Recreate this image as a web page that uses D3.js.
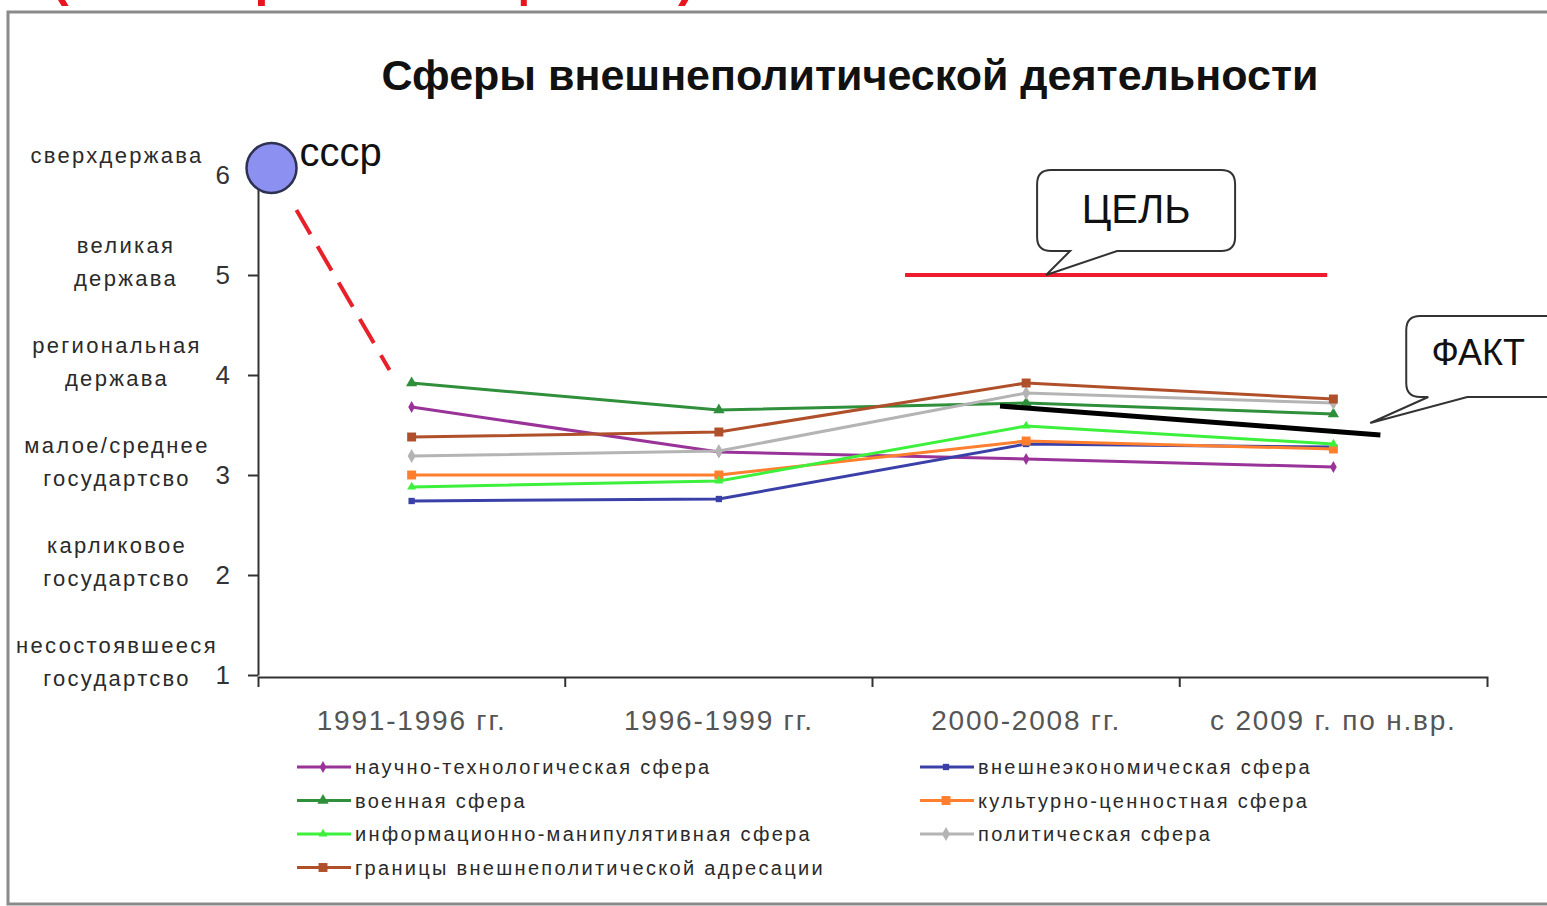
<!DOCTYPE html>
<meta charset="utf-8">
<script src="https://d3js.org/d3.v7.min.js"></script>
<style>
  body { margin: 0; background: #fff; }
  text { font-family: "Liberation Sans", Arial, sans-serif; }
</style>
<div id="vis"></div>
<script type="text/javascript">

// periods on the x axis
var categories = ["1991-1996 гг.", "1996-1999 гг.", "2000-2008 гг.", "с 2009 г. по н.вр."];

// spheres (legend order)
var seriesNames = [
  "научно-технологическая сфера",
  "внешнеэкономическая сфера",
  "военная сфера",
  "культурно-ценностная сфера",
  "информационно-манипулятивная сфера",
  "политическая сфера",
  "границы внешнеполитической адресации"
];

var seriesValues = [
  [3.68, 3.23, 3.16, 3.08],
  [2.74, 2.76, 3.31, 3.28],
  [3.92, 3.65, 3.72, 3.61],
  [3.00, 3.00, 3.34, 3.26],
  [2.88, 2.94, 3.49, 3.31],
  [3.19, 3.24, 3.82, 3.72],
  [3.38, 3.43, 3.92, 3.76]
];

var levelTicks = [1, 2, 3, 4, 5, 6];
var levelLabels = [
  ["несостоявшееся", "государтсво"],
  ["карликовое", "государтсво"],
  ["малое/среднее", "государтсво"],
  ["региональная", "держава"],
  ["великая", "держава"],
  ["сверхдержава"]
];

// annotations, in period-index / level units
var ussrPoint = {i: -0.456, v: 6.07};
var ussrDrop = [{i: -0.375, v: 5.65}, {i: -0.072, v: 4.05}];
var goalLine = [{i: 1.606, v: 5}, {i: 2.98, v: 5}];
var factLine = [{i: 1.915, v: 3.69}, {i: 3.153, v: 3.40}];
var goalTip = {i: 2.065, v: 5};
var factTip = {i: 3.12, v: 3.52};

var colors = ["#993399", "#3b40a8", "#2f8f3a", "#ff7f2f", "#3cf03c", "#b4b4b4", "#b0502a"];
var symbols = [d3.symbolDiamond, d3.symbolSquare, d3.symbolTriangle, d3.symbolSquare,
               d3.symbolTriangle, d3.symbolDiamond, d3.symbolSquare];
var symbolSizes = [40, 40, 55, 80, 35, 55, 80];

var width = 1547, height = 906;

var svg = d3.select("#vis").append("svg")
    .attr("width", width)
    .attr("height", height);

svg.append("rect").attr("width", width).attr("height", height).attr("fill", "#fff");

// red heading of the slide, mostly above the visible area
svg.append("text")
    .attr("x", 52).attr("y", -4)
    .attr("fill", "#e8141e")
    .style("font-size", "50px").style("font-weight", "bold")
    .style("letter-spacing", "8px")
    .text("(экспертная оценка)");

// slide frame
svg.append("rect")
    .attr("x", 8).attr("y", 12)
    .attr("width", 1570).attr("height", 892)
    .attr("fill", "none")
    .attr("stroke", "#8a8a8a")
    .attr("stroke-width", 3);

svg.append("text")
    .attr("x", 850).attr("y", 90)
    .attr("text-anchor", "middle")
    .attr("fill", "#111")
    .style("font-size", "43px").style("font-weight", "bold")
    .text("Сферы внешнеполитической деятельности");

var x = d3.scaleBand().domain(categories).range([258, 1487]);
var xi = d3.scaleLinear().domain([0, categories.length - 1])
    .range([x(categories[0]) + x.bandwidth() / 2, x(categories[categories.length - 1]) + x.bandwidth() / 2]);
var y = d3.scaleLinear().domain([1, 6]).range([675, 175]);

// y axis
var yAxis = svg.append("g")
    .attr("transform", "translate(258,0)")
    .call(d3.axisLeft(y).tickValues(levelTicks).tickFormat(d3.format("d"))
      .tickSize(10).tickSizeOuter(0).tickPadding(18));
yAxis.select(".domain").attr("stroke", "#333").attr("stroke-width", 2);
yAxis.selectAll(".tick line").attr("stroke", "#333").attr("stroke-width", 2);
yAxis.selectAll(".tick text").attr("fill", "#333").style("font-size", "26px");

// level names left of the axis
var lvl = svg.append("g").selectAll("g").data(levelTicks).enter().append("g");
lvl.each(function(v, k) {
  var lines = levelLabels[k];
  var offs = lines.length > 1 ? [-30, 3] : [-20];
  d3.select(this).selectAll("text").data(lines).enter().append("text")
    .attr("x", v === 5 ? 126 : 117)
    .attr("y", (d, j) => y(v) + offs[j] + 8)
    .attr("text-anchor", "middle")
    .attr("fill", "#2a2a2a")
    .style("font-size", "22px")
    .style("letter-spacing", "2.3px")
    .text(d => d);
});

// x axis
var xAxis = svg.append("g")
    .attr("transform", "translate(0,677)")
    .call(d3.axisBottom(x).tickSize(0).tickSizeOuter(10).tickPadding(33));
xAxis.select(".domain").attr("stroke", "#333").attr("stroke-width", 2);
xAxis.selectAll(".tick text").attr("fill", "#555").style("font-size", "28px").style("letter-spacing", "1.8px");
xAxis.selectAll(".bound").data(categories.slice(1)).enter().append("line")
    .attr("x1", d => x(d)).attr("x2", d => x(d))
    .attr("y1", 0).attr("y2", 10)
    .attr("stroke", "#333").attr("stroke-width", 2);

// series
var line = d3.line().x((d, i) => xi(i)).y(d => y(d));
seriesValues.forEach((vals, s) => {
  var g = svg.append("g");
  g.append("path")
    .datum(vals)
    .attr("fill", "none")
    .attr("stroke", colors[s])
    .attr("stroke-width", 3)
    .attr("d", line);
  g.selectAll("path.m").data(vals).enter().append("path")
    .attr("class", "m")
    .attr("transform", (d, i) => "translate(" + xi(i) + "," + y(d) + ")")
    .attr("fill", colors[s])
    .attr("d", d3.symbol().type(symbols[s]).size(symbolSizes[s]));
});

// target line
svg.append("path")
  .datum(goalLine)
  .attr("fill", "none")
  .attr("stroke", "#ee1c2e")
  .attr("stroke-width", 4)
  .attr("d", d3.line().x(d => xi(d.i)).y(d => y(d.v)));

// actual trend
svg.append("path")
  .datum(factLine)
  .attr("fill", "none")
  .attr("stroke", "#000")
  .attr("stroke-width", 5)
  .attr("d", d3.line().x(d => xi(d.i)).y(d => y(d.v)));

// USSR
svg.append("path")
  .datum(ussrDrop)
  .attr("fill", "none")
  .attr("stroke", "#e8202a")
  .attr("stroke-width", 4)
  .attr("stroke-dasharray", "28,14")
  .attr("d", d3.line().x(d => xi(d.i)).y(d => y(d.v)));

svg.append("circle")
  .attr("cx", xi(ussrPoint.i)).attr("cy", y(ussrPoint.v))
  .attr("r", 25)
  .attr("fill", "#8c90f0")
  .attr("stroke", "#2e3150")
  .attr("stroke-width", 2.5);

svg.append("text")
  .attr("x", xi(ussrPoint.i) + 28).attr("y", y(ussrPoint.v) - 2)
  .attr("fill", "#111")
  .style("font-size", "40px")
  .text("ссср");

// callouts
function callout(tx, ty, l, t, r, b, a1, a2, rad) {
  var p = d3.path();
  p.moveTo(l + rad, t);
  p.lineTo(r - rad, t);
  p.quadraticCurveTo(r, t, r, t + rad);
  p.lineTo(r, b - rad);
  p.quadraticCurveTo(r, b, r - rad, b);
  p.lineTo(a2, b);
  p.lineTo(tx, ty);
  p.lineTo(a1, b);
  p.lineTo(l + rad, b);
  p.quadraticCurveTo(l, b, l, b - rad);
  p.lineTo(l, t + rad);
  p.quadraticCurveTo(l, t, l + rad, t);
  p.closePath();
  return p.toString();
}

var gx = xi(goalTip.i), gy = y(goalTip.v);
svg.append("path")
  .attr("d", callout(gx, gy, gx - 9, gy - 105, gx + 189, gy - 24, gx + 24, gx + 71, 14))
  .attr("fill", "#fff").attr("stroke", "#333").attr("stroke-width", 2);
svg.append("text")
  .attr("x", gx + 90).attr("y", gy - 52)
  .attr("text-anchor", "middle")
  .attr("fill", "#111")
  .style("font-size", "40px")
  .text("ЦЕЛЬ");

var fx = xi(factTip.i), fy = y(factTip.v);
svg.append("path")
  .attr("d", callout(fx, fy, fx + 36, fy - 107, fx + 200, fy - 26, fx + 58, fx + 97, 14))
  .attr("fill", "#fff").attr("stroke", "#333").attr("stroke-width", 2);
svg.append("text")
  .attr("x", fx + 108).attr("y", fy - 58)
  .attr("text-anchor", "middle")
  .attr("fill", "#111")
  .style("font-size", "36px")
  .text("ФАКТ");

// legend
var legend = svg.append("g").selectAll("g").data(seriesNames).enter().append("g")
  .attr("transform", (d, i) => "translate(" + (i % 2 ? 920 : 297) + "," + (767 + Math.floor(i / 2) * 33.5) + ")");
legend.append("line")
  .attr("x1", 0).attr("x2", 54)
  .attr("stroke", (d, i) => colors[i])
  .attr("stroke-width", 3);
legend.append("path")
  .attr("transform", "translate(26,0)")
  .attr("fill", (d, i) => colors[i])
  .attr("d", (d, i) => d3.symbol().type(symbols[i]).size(symbolSizes[i])());
legend.append("text")
  .attr("x", 58).attr("y", 7)
  .attr("fill", "#2a2a2a")
  .style("font-size", "20px")
  .style("letter-spacing", "2.3px")
  .text(d => d);

</script>
